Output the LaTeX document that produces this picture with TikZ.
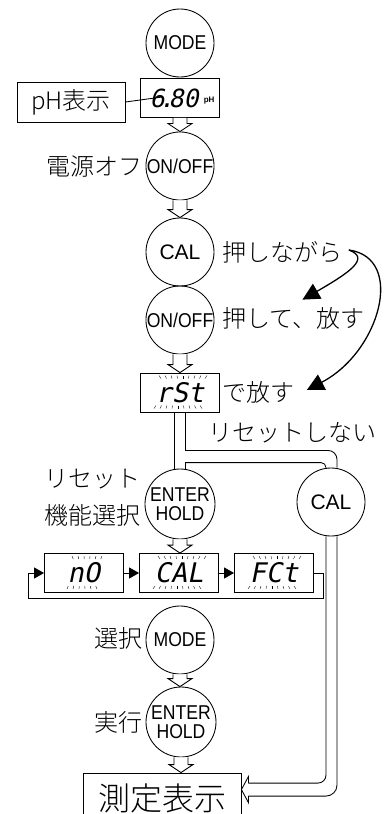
\documentclass[tikz,border=0pt]{standalone}
\usepackage{fontspec}
\newfontfamily\jpfont{Noto Sans CJK JP Light}
\newfontfamily\keyfont[FakeStretch=0.88]{Liberation Sans}
\newfontfamily\calfont{Liberation Sans}
\newfontfamily\lcdfont[FakeSlant=0.2]{DejaVu Sans Mono}
\usetikzlibrary{calc,arrows.meta,backgrounds}

\begin{document}
\begin{tikzpicture}[
    x=1pt,y=-1pt,line width=0.3mm,
    show background rectangle,background rectangle/.style={fill=white},inner frame sep=0pt,
    key/.style={circle,draw,minimum size=68pt,inner sep=0pt,align=center,
        font=\keyfont\fontsize{20}{19}\selectfont},
    calkey/.style={key,font=\calfont\fontsize{21}{21}\selectfont},
    lcd/.style={draw,minimum width=79pt,minimum height=39pt,inner sep=0pt,
        font=\lcdfont\fontsize{27}{27}\selectfont},
    blink/.style={path picture={
        \foreach \i in {1,...,#1}
            \draw[line width=0.4pt]
                ($(path picture bounding box.center)+({(\i-(#1+1)/2)*5.5+3},-14)$) -- ++({(\i-(#1+1)/2)*0.5},-3)
                ($(path picture bounding box.center)+({(\i-(#1+1)/2)*5.5-2},13)$) -- ++({(\i-(#1+1)/2)*0.5},3);
    }},
    note/.style={inner sep=0pt,font=\jpfont\fontsize{24}{37}\selectfont},
    flow/.style={fill=white,to path={let \p1=(\tikztostart.south),\p2=(\tikztotarget.north) in
        (\x1-7pt,\y1) -- (\x1-7pt,\y2+8pt) -- (\x1-12pt,\y2+8pt) -- (\x1,\y2)
        -- (\x1+12pt,\y2+8pt) -- (\x1+7pt,\y2+8pt) -- (\x1+7pt,\y1)}},
    tri/.style={-{Triangle[length=10pt,width=11pt]}},
    bigtri/.style={-{Triangle[length=17pt,width=17pt]},line width=1.3pt}
]
\useasboundingbox (0,0) rectangle (387,814);

\node[key] (mode) at (180,43) {MODE};
\node[lcd,font=\lcdfont\fontsize{25}{25}\selectfont] (ph) at (180,98)
    {\hspace*{4pt}6\kern-.22em.\kern-.22em80\hspace{5pt}\raisebox{5pt}{\calfont\bfseries\fontsize{8}{8}\selectfont pH}};
\node[note,draw,minimum width=108pt,minimum height=40pt] (phlabel) at (71,102) {pH表示};
\node[key] (onoff) at (180,166) {ON/OFF};
\node[note,anchor=east] (poweroff) at (143,167) {電源オフ};

\node[calkey] (cal) at (180,252) {CAL};
\node[key] (onoff2) at (180,320) {ON/OFF};
\node[note,anchor=west] (push) at (222,252) {押しながら};
\node[note,anchor=west] (pushrel) at (222,318) {押して、放す};
\node[lcd,blink=9] (rst) at (180,392.5) {rSt};
\node[note,anchor=west] (release) at (222,392) {で放す};
\node[note,anchor=west] (noreset) at (208,433) {リセットしない};

\node[key,minimum size=70pt] (enter) at (180,504) {ENTER\\HOLD};
\node[note,anchor=east,align=left] (resetsel) at (141,498) {リセット\\機能選択};
\node[calkey] (cal2) at (331,502) {CAL};

\node[lcd,blink=6] (no) at (84,573) {nO};
\node[lcd,blink=9] (calbox) at (179,573) {CAL};
\node[lcd,blink=9] (fct) at (274,573) {FCt};

\node[key] (mode2) at (180,640) {MODE};
\node[note,anchor=east] (select) at (143,638) {選択};
\node[key,minimum size=70pt] (enter2) at (181,722) {ENTER\\HOLD};
\node[note,anchor=east] (execute) at (143,722) {実行};
\node[note,draw,font=\jpfont\fontsize{32}{32}\selectfont,minimum width=158pt,minimum height=50pt]
    (meas) at (162,798) {測定表示};

\draw (phlabel.east) -- ($(ph.west)+(22,-1)$);

\draw[flow] (ph) to (onoff);
\draw[flow] (onoff) to (cal);
\draw[flow] (onoff2) to (rst);
\draw[flow] (enter) to (calbox);
\draw[flow] (mode2) to (enter2);
\draw[flow] (enter2) to (meas);

\draw[bigtri] ($(push.east)+(6,-2)$) .. controls +(22,8) and +(47,-27) .. ($(pushrel.north)+(9,-7)$);
\draw[bigtri] ($(push.east)+(6,-2)$) .. controls +(57,8) and +(73,-38) .. ($(release.east)+(12,-2)$);

% pipe from rSt
\draw ($(rst.south)+(-6,0)$) -- ($(enter.north)+(-6,0)$);
\draw ($(rst.south)+(5,0)$) -- ($(rst.south)+(5,38)$);
\draw[rounded corners=9pt] ($(rst.south)+(5,38)$) -| ($(cal2.north)+(6,0)$);
\draw ($(enter.north)+(5,-6)$) -- ($(enter.north)+(5,0)$);
\draw[rounded corners=5pt] ($(enter.north)+(5,-6)$) -| ($(cal2.north)+(-5,1)$);

\draw[tri] (no) -- (calbox);
\draw[tri] (calbox) -- (fct);
\draw[tri] (fct.east) -- ++(9,0) -- ++(0,25) -| ($(no.west)+(-16,0)$) -- (no.west);

% pipe from CAL to measuring
\coordinate (tip) at ($(meas.north east)+(0,17)$);
\draw[rounded corners=8pt] ($(cal2.south)+(-5,0)$) |- ($(tip)+(7,-6.5)$);
\draw[rounded corners=11pt] ($(cal2.south)+(6,0)$) |- ($(tip)+(7,6.5)$);
\draw ($(tip)+(7,-6.5)$) -- ($(tip)+(7,-13)$) -- (tip) -- ($(tip)+(7,13)$) -- ($(tip)+(7,6.5)$);

\end{tikzpicture}
\end{document}
